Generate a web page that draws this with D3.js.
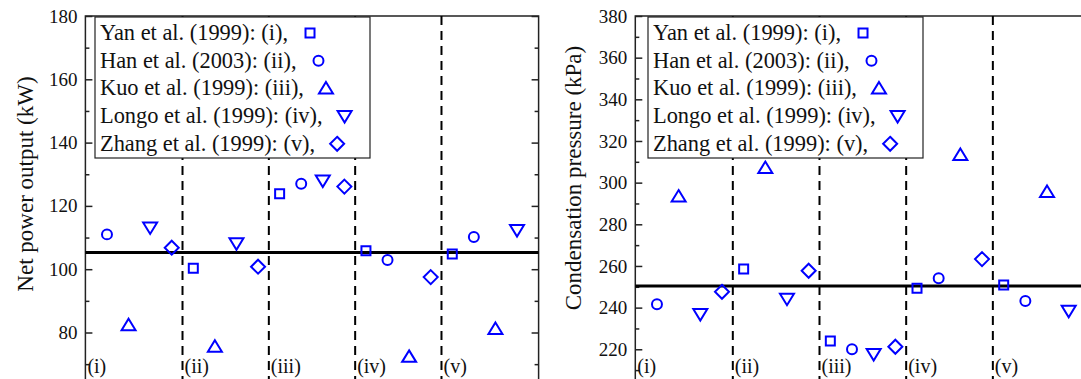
<!DOCTYPE html>
<html>
<head>
<meta charset="utf-8">
<script src="https://cdn.jsdelivr.net/npm/d3@7"></script>
<style>
  body { margin: 0; background: #fff; }
  text { font-family: "Liberation Serif", "Times New Roman", serif; fill: #111; }
</style>
</head>
<body>
<script>
// condition groups and the studies they come from
var groups = ['(i)', '(ii)', '(iii)', '(iv)', '(v)'];
var studies = ['Yan et al. (1999): (i),', 'Han et al. (2003): (ii),', 'Kuo et al. (1999): (iii),',
  'Longo et al. (1999): (iv),', 'Zhang et al. (1999): (v),'];
var symbolNames = ['square', 'circle', 'triUp', 'triDown', 'diamond'];
var boundaries = [4.5, 8.5, 12.5, 16.5];

// net power output (kW), one value per group, null = not plotted
var powerYan   = [null, 100.3, 123.8, 105.8, 104.8];
var powerHan   = [111.0, null, 127.0, 102.9, 110.2];
var powerKuo   = [82.3, 75.5, null, 72.3, 81.1];
var powerLongo = [113.2, 108.2, 128.0, null, 112.4];
var powerZhang = [106.8, 100.8, 126.1, 97.5, null];
var powerMean = 105.3;
var powerTicks = [80, 100, 120, 140, 160, 180];

// condensation pressure (kPa)
var pressYan   = [null, 258.5, 224.0, 249.3, 250.9];
var pressHan   = [241.6, null, 220.0, 254.1, 243.2];
var pressKuo   = [293.3, 307.0, null, 313.3, 295.5];
var pressLongo = [236.9, 244.3, 217.7, null, 238.5];
var pressZhang = [247.6, 257.7, 221.2, 263.3, null];
var pressMean = 250.4;
var pressTicks = [220, 240, 260, 280, 300, 320, 340, 360, 380];

var blue = '#0000ff';
var svg = d3.select('body').append('svg')
  .attr('width', 1081)
  .attr('height', 379);

// marker outlines around the point
var markerPath = {
  square: 'M-4.5,-4.5H4.5V4.5H-4.5Z',
  circle: d3.symbol(d3.symbolCircle, 78)(),
  triUp: 'M0,-6.5L7,5L-7,5Z',
  triDown: 'M-7,-5L7,-5L0,6.5Z',
  diamond: 'M0,-7L7,0L0,7L-7,0Z'
};

function drawPanel(p) {
  var g = svg.append('g');

  var x = d3.scaleLinear().domain([0, 21]).range([p.left, p.right]);
  var y = d3.scaleLinear().domain(p.yDomain).range([p.bottom, 16]);

  // frame
  g.append('rect')
    .attr('x', p.left).attr('y', 16)
    .attr('width', p.right - p.left).attr('height', p.bottom - 16)
    .attr('fill', 'none').attr('stroke', '#222').attr('stroke-width', 1.5);

  // left axis, ticks pointing inward
  g.append('g')
    .attr('transform', 'translate(' + p.left + ',0)')
    .call(d3.axisLeft(y).tickValues(p.ticks).tickSizeInner(-7).tickSizeOuter(0).tickPadding(8))
    .call(ax => ax.select('.domain').remove())
    .selectAll('text')
      .attr('font-size', '19px')
      .attr('font-family', '"Liberation Serif", serif')
      .attr('fill', '#111');

  var minor = d3.range(p.yDomain[0] + 10, p.yDomain[1], 20);
  g.append('g')
    .attr('transform', 'translate(' + p.left + ',0)')
    .call(d3.axisLeft(y).tickValues(minor).tickSizeInner(-4).tickSizeOuter(0).tickFormat(''))
    .call(ax => ax.select('.domain').remove());

  // right axis ticks, inward
  g.append('g')
    .attr('transform', 'translate(' + p.right + ',0)')
    .call(d3.axisRight(y).tickValues(p.ticks).tickSizeInner(-7).tickSizeOuter(0).tickFormat(''))
    .call(ax => ax.select('.domain').remove());
  g.append('g')
    .attr('transform', 'translate(' + p.right + ',0)')
    .call(d3.axisRight(y).tickValues(minor).tickSizeInner(-4).tickSizeOuter(0).tickFormat(''))
    .call(ax => ax.select('.domain').remove());
  g.selectAll('.tick line').attr('stroke', '#222').attr('stroke-width', 1.5);

  // group separators
  g.selectAll('.sep')
    .data(boundaries)
    .enter().append('line')
      .attr('x1', d => x(d)).attr('x2', d => x(d))
      .attr('y1', 16).attr('y2', p.bottom)
      .attr('stroke', '#000').attr('stroke-width', 2)
      .attr('stroke-dasharray', '9,6');

  // mean line
  g.append('line')
    .attr('x1', p.left).attr('x2', p.right)
    .attr('y1', y(p.mean)).attr('y2', y(p.mean))
    .attr('stroke', '#000').attr('stroke-width', 3);

  // group labels
  g.selectAll('.glabel')
    .data(groups)
    .enter().append('text')
      .attr('x', (d, i) => (i === 0 ? p.left : x(boundaries[i - 1])) + 2)
      .attr('y', 373)
      .attr('font-size', '20px')
      .text(d => d);

  // points: within each group the present values take slots 1..4
  var points = [];
  groups.forEach(function (grp, gi) {
    var slot = 0;
    p.series.forEach(function (vals, si) {
      if (vals[gi] == null) return;
      slot += 1;
      points.push({ sym: symbolNames[si], pos: gi * 4 + slot, value: vals[gi] });
    });
  });

  g.selectAll('.pt')
    .data(points)
    .enter().append('path')
      .attr('d', d => markerPath[d.sym])
      .attr('transform', d => 'translate(' + x(d.pos) + ',' + y(d.value) + ')')
      .attr('fill', 'none')
      .attr('stroke', blue)
      .attr('stroke-width', 2);

  // y title
  g.append('text')
    .attr('transform', 'rotate(-90)')
    .attr('x', -p.titleY)
    .attr('y', p.titleX)
    .attr('text-anchor', 'middle')
    .attr('font-size', '23px')
    .text(p.title);

  // legend
  var lg = g.append('g');
  lg.append('rect')
    .attr('x', p.legendX).attr('y', 17)
    .attr('width', 275).attr('height', 141)
    .attr('fill', '#fff').attr('stroke', '#222').attr('stroke-width', 1.2);
  studies.forEach(function (s, i) {
    var base = 40 + i * 27.7;
    var t = lg.append('text')
      .attr('x', p.legendX + 5)
      .attr('y', base)
      .attr('font-size', '22.4px')
      .text(s);
    var end = p.legendX + 5 + t.node().getComputedTextLength();
    lg.append('path')
      .attr('d', markerPath[symbolNames[i]])
      .attr('transform', 'translate(' + (end + 22) + ',' + (base - 7) + ')')
      .attr('fill', 'none')
      .attr('stroke', blue)
      .attr('stroke-width', 2);
  });
}

drawPanel({
  left: 85.4, right: 538.6, bottom: 16 + 120 * 3.165,
  yDomain: [60, 180], ticks: powerTicks,
  series: [powerYan, powerHan, powerKuo, powerLongo, powerZhang],
  mean: powerMean,
  title: 'Net power output (kW)', titleX: 33, titleY: 184,
  legendX: 95
});

drawPanel({
  left: 635.3, right: 635.3 + 21 * 21.67, bottom: 16 + 180 * 2.083,
  yDomain: [200, 380], ticks: pressTicks,
  series: [pressYan, pressHan, pressKuo, pressLongo, pressZhang],
  mean: pressMean,
  title: 'Condensation pressure (kPa)', titleX: 581, titleY: 178,
  legendX: 648
});
</script>
</body>
</html>
